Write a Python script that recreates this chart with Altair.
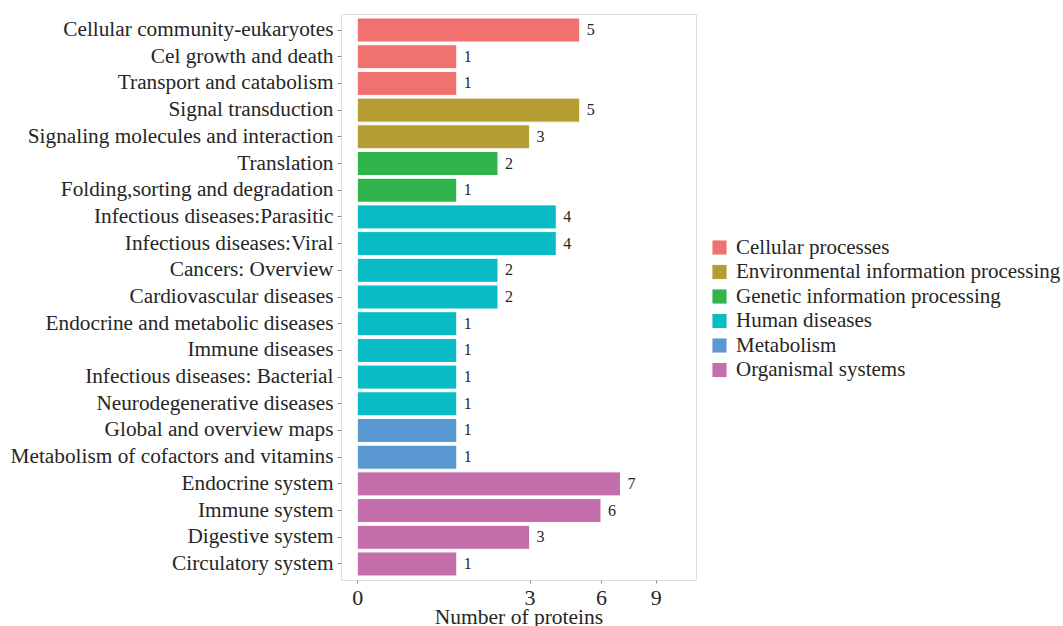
import altair as alt
import pandas as pd

# KEGG pathway annotation of identified proteins
pathways = [
    "Cellular community-eukaryotes", "Cel growth and death", "Transport and catabolism",
    "Signal transduction", "Signaling molecules and interaction",
    "Translation", "Folding,sorting and degradation",
    "Infectious diseases:Parasitic", "Infectious diseases:Viral", "Cancers: Overview",
    "Cardiovascular diseases", "Endocrine and metabolic diseases", "Immune diseases",
    "Infectious diseases: Bacterial", "Neurodegenerative diseases",
    "Global and overview maps", "Metabolism of cofactors and vitamins",
    "Endocrine system", "Immune system", "Digestive system", "Circulatory system",
]
counts = [5, 1, 1, 5, 3, 2, 1, 4, 4, 2, 2, 1, 1, 1, 1, 1, 1, 7, 6, 3, 1]
classes = (
    ["Cellular processes"] * 3
    + ["Environmental information processing"] * 2
    + ["Genetic information processing"] * 2
    + ["Human diseases"] * 8
    + ["Metabolism"] * 2
    + ["Organismal systems"] * 4
)
class_order = [
    "Cellular processes", "Environmental information processing",
    "Genetic information processing", "Human diseases", "Metabolism",
    "Organismal systems",
]
class_colors = ["#F07270", "#B59C33", "#30B44C", "#08BBC5", "#5A98D2", "#C56EAC"]
x_ticks = [0, 3, 6, 9]

df = pd.DataFrame({"pathway": pathways, "count": counts, "cls": classes})

FONT = "Liberation Serif"
W, H = 355, 566

x_scale = alt.Scale(type="sqrt", domain=[0, 11.59], range=[16.3, W], nice=False, zero=False)
y_scale = alt.Scale(paddingInner=0.1, paddingOuter=0.15)

base = alt.Chart(df).encode(
    y=alt.Y("pathway:N", sort=pathways, scale=y_scale,
            axis=alt.Axis(title=None, domain=False, ticks=True, tickSize=4,
                          tickColor="#8a8a8a", labelFontSize=21.3, labelFont=FONT,
                          labelColor="#262626", labelPadding=4, labelLimit=400)),
)

bars = base.mark_bar(stroke="white", strokeWidth=1).encode(
    x=alt.X("count:Q", scale=x_scale,
            axis=alt.Axis(title="Number of proteins", values=x_ticks, format="d",
                          domain=False, grid=False, tickSize=3, tickColor="#8a8a8a",
                          labelFontSize=22, labelFont=FONT, labelColor="#262626",
                          labelPadding=4, labelFlush=False,
                          titleFontSize=21.5, titleFont=FONT, titleX=W / 2,
                          titleAlign="center", titleFontWeight="normal",
                          titleColor="#262626", titlePadding=-2)),
    color=alt.Color("cls:N", scale=alt.Scale(domain=class_order, range=class_colors),
                    legend=alt.Legend(title=None, orient="none", legendX=368, legendY=223,
                                      symbolType="square", symbolSize=200,
                                      symbolStrokeWidth=0, labelFont=FONT,
                                      labelFontSize=21, labelColor="#262626",
                                      rowPadding=2.5, labelOffset=6, padding=0,
                                      labelLimit=400)),
)

labels = base.mark_text(align="left", baseline="middle", dx=7, font=FONT,
                        fontSize=16, color="#262626").encode(
    x=alt.X("count:Q", scale=x_scale),
    text=alt.Text("count:Q"),
)

chart = (
    alt.layer(bars, labels)
    .properties(width=W, height=H, autosize=alt.AutoSizeParams(type="none"),
                padding={"left": 341, "top": 14, "right": 367, "bottom": 46})
    .configure_view(stroke="#8f8f8f", strokeWidth=1.2)
    .configure(background="white")
)

chart.save("out.html", embed_options={"renderer": "svg", "actions": False})
